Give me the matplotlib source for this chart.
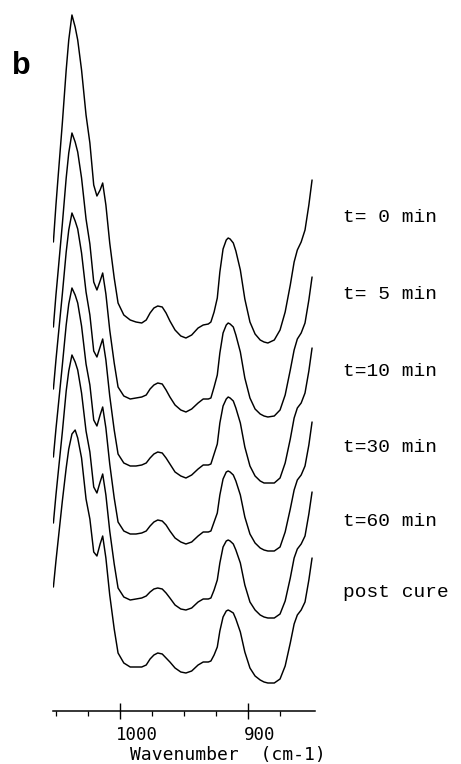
""" Spectres IR empiles (b) - suivi de cuisson, bande epoxyde ~915 cm-1
"""
import numpy as np
import matplotlib
matplotlib.use('Agg')
import matplotlib.pyplot as plt
import matplotlib.transforms as mtransforms

# --------------------------------------------------------------------
# -- DONNEES
# --------------------------------------------------------------------
wavenumber = [1052, 1050, 1048.5, 1045, 1042, 1040, 1037.5, 1035, 1033, 1030,
              1026.5, 1023.5, 1020.5, 1018, 1015.5, 1013.5, 1011, 1008,
              1004.5, 1001.5, 997, 992, 987.5, 983,
              979.5, 976.5, 973.5, 970.5, 967, 964, 961, 957, 952.5, 948.5,
              944, 939, 935, 931,
              929, 926.5, 924, 922, 919.5, 917, 915.5,
              914, 911.5, 909.5, 906, 902.5, 898.5, 894.5, 890.5, 887.5, 884.5,
              879.5, 875, 871, 867, 864, 861.5, 858.5, 855.5, 852.5, 850]

t_0 = [1.01, 1.38, 1.63, 2.20, 2.73, 3.03, 3.28, 3.16, 3.03, 2.73, 2.28, 2.00,
       1.58, 1.47, 1.53, 1.60, 1.38, 1.00, 0.65, 0.40, 0.28, 0.23, 0.21, 0.20,
       0.23, 0.30, 0.35, 0.37, 0.36, 0.30, 0.22, 0.13, 0.07, 0.05,
       0.08, 0.15, 0.18, 0.19,
       0.21, 0.31, 0.45, 0.71, 0.94, 1.03, 1.05,
       1.04, 1.00, 0.92, 0.73, 0.44, 0.21, 0.09, 0.03, 0.01, 0.00,
       0.03, 0.13, 0.31, 0.58, 0.81, 0.93, 1.01, 1.13, 1.38, 1.63]

t_5 = [0.90, 1.22, 1.43, 1.93, 2.39, 2.64, 2.84, 2.75, 2.65, 2.39, 1.98, 1.73,
       1.35, 1.27, 1.36, 1.44, 1.23, 0.87, 0.54, 0.30, 0.21, 0.18, 0.19, 0.20,
       0.22, 0.28, 0.32, 0.34, 0.33, 0.27, 0.20, 0.12, 0.07, 0.05,
       0.08, 0.14, 0.18, 0.18,
       0.19, 0.30, 0.42, 0.64, 0.84, 0.92, 0.94,
       0.93, 0.90, 0.82, 0.65, 0.39, 0.19, 0.08, 0.03, 0.01, 0.00,
       0.01, 0.07, 0.22, 0.47, 0.67, 0.78, 0.84, 0.94, 1.17, 1.40]

t_10 = [0.94, 1.23, 1.43, 1.89, 2.31, 2.53, 2.70, 2.62, 2.54, 2.30, 1.91, 1.68,
        1.32, 1.26, 1.36, 1.44, 1.23, 0.87, 0.53, 0.29, 0.20, 0.17, 0.17, 0.18,
        0.20, 0.25, 0.29, 0.31, 0.30, 0.25, 0.19, 0.11, 0.07, 0.05,
        0.08, 0.14, 0.18, 0.18,
        0.19, 0.29, 0.39, 0.60, 0.77, 0.84, 0.86,
        0.85, 0.82, 0.75, 0.60, 0.36, 0.17, 0.07, 0.02, 0.00, 0.00,
        0.00, 0.05, 0.20, 0.44, 0.65, 0.75, 0.80, 0.90, 1.12, 1.35]

t_30 = [0.93, 1.21, 1.40, 1.85, 2.25, 2.46, 2.62, 2.55, 2.47, 2.24, 1.86, 1.65,
        1.30, 1.24, 1.35, 1.43, 1.22, 0.86, 0.52, 0.28, 0.19, 0.16, 0.16, 0.17,
        0.19, 0.24, 0.28, 0.30, 0.29, 0.25, 0.19, 0.12, 0.08, 0.06,
        0.08, 0.14, 0.18, 0.18,
        0.19, 0.28, 0.37, 0.55, 0.71, 0.78, 0.79,
        0.78, 0.75, 0.69, 0.55, 0.33, 0.16, 0.07, 0.02, 0.00, -0.01,
        -0.01, 0.03, 0.18, 0.41, 0.60, 0.70, 0.75, 0.84, 1.05, 1.28]

t_60 = [0.94, 1.22, 1.41, 1.85, 2.26, 2.46, 2.62, 2.55, 2.47, 2.24, 1.86, 1.65,
        1.30, 1.24, 1.35, 1.43, 1.22, 0.86, 0.53, 0.29, 0.20, 0.17, 0.18, 0.19,
        0.21, 0.25, 0.28, 0.29, 0.28, 0.24, 0.19, 0.12, 0.08, 0.07,
        0.09, 0.15, 0.18, 0.18,
        0.19, 0.27, 0.37, 0.54, 0.70, 0.76, 0.77,
        0.76, 0.73, 0.67, 0.54, 0.32, 0.15, 0.07, 0.02, 0.00, -0.01,
        -0.01, 0.03, 0.16, 0.39, 0.59, 0.68, 0.73, 0.81, 1.03, 1.25]

post_cure = [0.95, 1.21, 1.39, 1.81, 2.14, 2.33, 2.48, 2.52, 2.44, 2.24, 1.83,
             1.63, 1.30, 1.26, 1.38, 1.46, 1.24, 0.87, 0.53, 0.29, 0.19, 0.15,
             0.15, 0.15,
             0.17, 0.23, 0.27, 0.29, 0.28, 0.24, 0.20, 0.14, 0.10, 0.09,
             0.11, 0.17, 0.20, 0.20,
             0.21, 0.27, 0.35, 0.51, 0.65, 0.71, 0.72,
             0.71, 0.69, 0.63, 0.50, 0.30, 0.14, 0.06, 0.02, 0.00, -0.01,
             -0.01, 0.03, 0.16, 0.39, 0.58, 0.67, 0.72, 0.80, 1.02, 1.24]

labels = ['t= 0 min', 't= 5 min', 't=10 min', 't=30 min', 't=60 min',
          'post cure']
spectra = [t_0, t_5, t_10, t_30, t_60, post_cure]

# --------------------------------------------------------------------
# -- MISE EN PAGE (pixels de la figure 461 x 764)
# --------------------------------------------------------------------
W, H = 461, 764
stack = [0, -0.74, -1.40, -2.07, -2.74, -3.39]   # decalage vertical
label_base = [222, 299, 376, 452, 526, 597]      # ligne de base des textes

fig = plt.figure(figsize=(W / 100, H / 100), dpi=100)
ax = fig.add_axes([53 / W, 53 / H, 262 / W, 711 / H])

for spec, off in zip(spectra, stack):
    ax.plot(wavenumber, np.array(spec) + off, color='black', lw=1.05,
            solid_joinstyle='round', solid_capstyle='round')

ax.set_xlim(1052.3, 847.7)
ax.set_ylim(-3.68, 3.43)
for side in ['left', 'right', 'top']:
    ax.spines[side].set_visible(False)
ax.spines['bottom'].set_linewidth(1.1)
ax.set_yticks([])

# axe des x : graduations style traceur
ax.set_xticks([1000, 900])
ax.set_xticklabels(['1000', '900'], fontfamily='DejaVu Sans Mono',
                   fontsize=12.5, ha='left')
ax.set_xticks([1050, 1025, 975, 950, 925, 875], minor=True)
ax.tick_params(axis='x', which='major', direction='inout', length=11,
               width=1.0, pad=5)
ax.tick_params(axis='x', which='minor', direction='out', length=3.6,
               width=0.9)
shift = mtransforms.ScaledTranslation(-4 / 100, 0, fig.dpi_scale_trans)
for lab in ax.get_xticklabels():
    lab.set_transform(lab.get_transform() + shift)

fig.text(228 / W, 4.5 / H, 'Wavenumber  (cm-1)', ha='center',
         va='baseline', fontfamily='DejaVu Sans Mono', fontsize=13)

# etiquettes des spectres
for text, yb in zip(labels, label_base):
    fig.text(343 / W, 1 - yb / H, text, ha='left', va='baseline',
             fontfamily='Liberation Mono', fontsize=14)

fig.text(12 / W, 1 - 74 / H, 'b', ha='left', va='baseline',
         fontfamily='Liberation Sans', fontweight='bold', fontsize=22)

fig.savefig('out.png', dpi=100)
